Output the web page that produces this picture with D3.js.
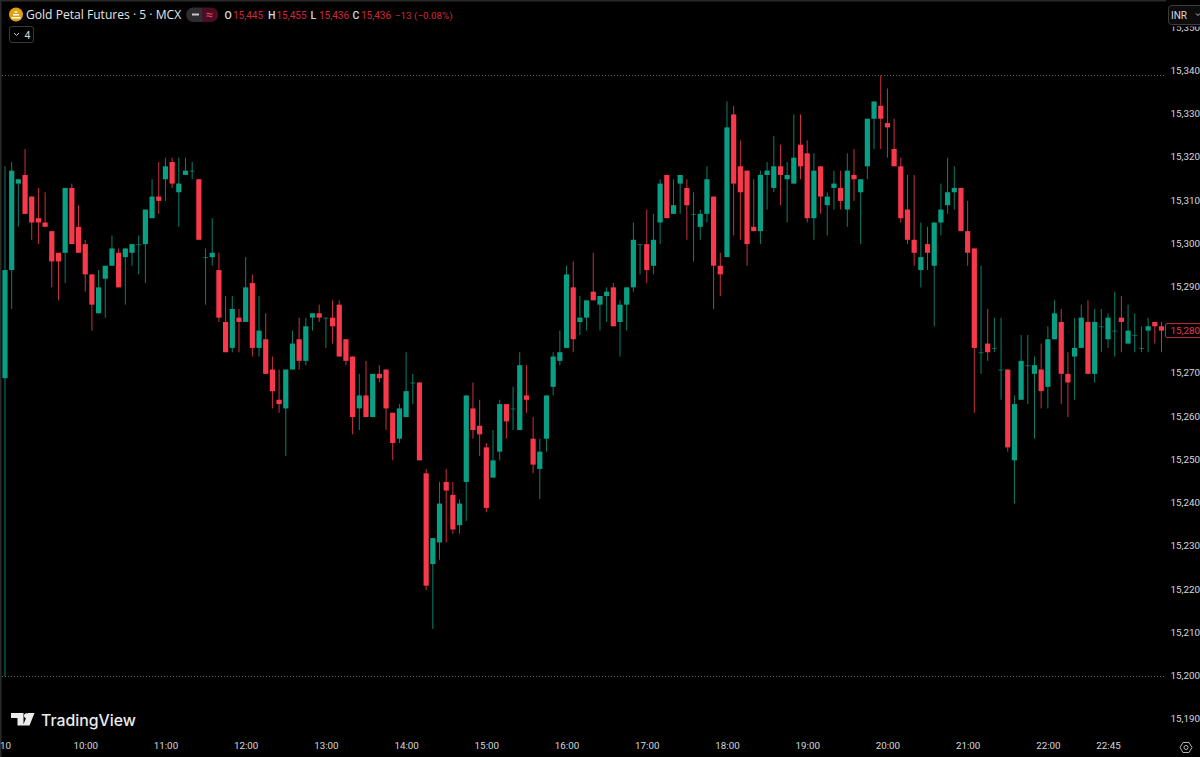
<!DOCTYPE html>
<html>
<head>
<meta charset="utf-8">
<title>Gold Petal Futures</title>
<script src="https://cdn.jsdelivr.net/npm/d3@7"></script>
<style>
  html, body { margin: 0; padding: 0; background: #000; overflow: hidden; }
  svg { display: block; }
  text { font-family: "Open Sans", "Noto Sans", sans-serif; }
  .tick text { font-family: Roboto, sans-serif; font-size: 9.8px; fill: #d6d8de; }
  .tick line, .domain { display: none; }
</style>
</head>
<body>
<svg id="chart" width="1200" height="757"></svg>
<script>
var opens = [15269,15294,15314,15316,15311,15306,15305,15303,15298,15298,15313,15304,15300,15293,15284,15292,15295,15298,15297,15298,
  15300,15300,15306,15311,15315,15319,15312,15316,15317,15315,15297,15297,15294,15282,15276,15283,15282,15291,15276,15278,
  15271,15264,15262,15271,15278,15273,15283,15284,15283,15283,15286,15278,15274,15262,15265,15260,15270,15271,15261,15255,
  15260,15268,15268,15247,15226,15231,15245,15242,15235,15245,15262,15258,15253,15246,15252,15263,15262,15257,15265,15255,
  15248,15255,15267,15273,15276,15290,15282,15283,15289,15286,15288,15290,15282,15286,15290,15300,15300,15295,15305,15316,
  15307,15314,15313,15307,15304,15307,15311,15295,15297,15330,15318,15317,15304,15303,15316,15313,15318,15315,15314,15323,
  15321,15306,15318,15309,15313,15313,15308,15316,15312,15318,15329,15332,15328,15322,15318,15308,15301,15294,15300,15295,
  15305,15309,15312,15313,15303,15299,15275,15277,15276,15271,15271,15250,15264,15272,15270,15271,15267,15278,15282,15270,
  15274,15276,15282,15270,15281,15278,15280,15283,15277,15279,15276,15280,15282,15281];
var highs = [15318,15319,15315,15322,15311,15313,15312,15303,15298,15313,15314,15309,15301,15293,15294,15295,15302,15299,15299,15300,
  15302,15308,15315,15319,15320,15320,15320,15320,15319,15315,15299,15306,15298,15288,15288,15285,15297,15293,15288,15284,
  15274,15271,15271,15280,15283,15283,15284,15286,15283,15287,15287,15278,15274,15270,15273,15270,15272,15271,15261,15263,
  15275,15270,15268,15248,15232,15245,15248,15245,15241,15265,15268,15264,15254,15257,15264,15263,15267,15275,15272,15260,
  15255,15265,15275,15280,15295,15296,15288,15287,15298,15288,15290,15291,15287,15290,15305,15300,15308,15307,15315,15316,
  15315,15316,15315,15312,15308,15318,15311,15298,15333,15332,15324,15317,15315,15317,15319,15325,15323,15319,15330,15330,
  15324,15321,15318,15312,15317,15317,15321,15322,15315,15329,15333,15339,15336,15329,15320,15316,15316,15305,15304,15305,
  15314,15320,15318,15313,15310,15299,15295,15285,15283,15283,15271,15265,15279,15279,15274,15277,15281,15287,15285,15275,
  15283,15286,15287,15285,15285,15284,15289,15288,15286,15284,15281,15283,15282,15282];
var lows = [15200,15285,15304,15307,15301,15300,15304,15290,15287,15291,15300,15298,15289,15280,15284,15283,15295,15290,15286,15295,
  15293,15291,15306,15307,15310,15313,15304,15316,15315,15301,15286,15295,15282,15275,15275,15275,15282,15274,15274,15270,
  15262,15261,15251,15271,15271,15272,15280,15282,15276,15277,15274,15272,15256,15257,15260,15260,15268,15257,15250,15254,
  15260,15263,15250,15220,15211,15227,15231,15233,15233,15236,15255,15251,15238,15246,15250,15255,15257,15257,15261,15247,
  15241,15252,15265,15272,15276,15275,15279,15280,15287,15280,15282,15281,15274,15280,15289,15293,15291,15293,15300,15306,
  15307,15307,15301,15296,15301,15305,15285,15288,15297,15302,15301,15295,15303,15300,15308,15312,15309,15305,15314,15315,
  15305,15301,15307,15302,15308,15308,15304,15310,15300,15315,15322,15322,15320,15318,15305,15300,15295,15290,15294,15281,
  15302,15307,15308,15303,15295,15261,15270,15273,15275,15264,15252,15240,15264,15263,15255,15262,15262,15278,15263,15260,
  15264,15276,15270,15268,15275,15276,15274,15275,15277,15275,15275,15275,15277,15275];
var closes = [15294,15317,15315,15307,15305,15305,15304,15296,15296,15313,15300,15298,15293,15286,15290,15295,15299,15290,15299,15300,
  15300,15308,15311,15310,15318,15314,15314,15317,15317,15301,15297,15298,15283,15275,15285,15282,15290,15276,15280,15270,
  15266,15263,15271,15277,15273,15281,15284,15283,15283,15281,15274,15273,15260,15265,15260,15270,15269,15262,15254,15262,
  15266,15268,15250,15221,15232,15240,15243,15234,15240,15265,15257,15256,15239,15250,15263,15259,15262,15272,15264,15249,
  15252,15265,15274,15275,15293,15278,15283,15287,15287,15288,15289,15281,15286,15290,15301,15300,15294,15301,15314,15306,
  15309,15316,15309,15307,15307,15315,15295,15293,15327,15314,15312,15300,15303,15316,15317,15318,15316,15316,15320,15318,
  15306,15317,15311,15311,15314,15310,15317,15315,15315,15329,15333,15329,15327,15318,15306,15301,15298,15297,15298,15305,
  15308,15312,15313,15303,15298,15276,15275,15275,15276,15271,15253,15263,15273,15272,15272,15266,15278,15284,15270,15268,
  15276,15283,15270,15282,15281,15283,15280,15282,15280,15279,15276,15281,15281,15280];

var priceTicks = [15350,15340,15330,15320,15310,15300,15290,15280,15270,15260,15250,15240,15230,15220,15210,15200,15190];
var timeTicks = [0,12,24,36,48,60,72,84,96,108,120,132,144,156,165];
var timeLabels = ["10","10:00","11:00","12:00","13:00","14:00","15:00","16:00","17:00","18:00","19:00","20:00","21:00","22:00","22:45"];
var levelLines = [15339,15200];

var upColor = "#089f85", downColor = "#f7394b";
var upWick = "#0b7f6c", downWick = "#c93040";

var svg = d3.select("#chart");
var x = d3.scaleLinear().domain([0,173]).range([5,1161.5]);
var y = d3.scaleLinear().domain([15200,15339]).range([676.5,75.5]);
var candles = d3.range(opens.length);

svg.append("rect").attr("width",1200).attr("height",757).attr("fill","#000");

// window edge
svg.append("rect").attr("width",1200).attr("height",1.5).attr("fill","#2a2a2a");
svg.append("rect").attr("width",1.5).attr("height",757).attr("fill","#2a2a2a");

// high / low level lines
svg.selectAll("line.level").data(levelLines).enter().append("line")
  .attr("class","level")
  .attr("x1",2).attr("x2",1166)
  .attr("y1",function(d) { return y(d); })
  .attr("y2",function(d) { return y(d); })
  .attr("stroke","#6a6a6a").attr("stroke-width",1).attr("stroke-dasharray","1 2");

// wicks
svg.selectAll("line.wick").data(candles).enter().append("line")
  .attr("class","wick")
  .attr("x1",function(i) { return x(i); })
  .attr("x2",function(i) { return x(i); })
  .attr("y1",function(i) { return y(highs[i]); })
  .attr("y2",function(i) { return y(lows[i]); })
  .attr("stroke",function(i) { return closes[i] >= opens[i] ? upWick : downWick; })
  .attr("stroke-width",1);

// bodies
svg.selectAll("rect.body").data(candles).enter().append("rect")
  .attr("class","body")
  .attr("x",function(i) { return x(i) - 2.6; })
  .attr("width",5.2)
  .attr("y",function(i) { return y(Math.max(opens[i],closes[i])); })
  .attr("height",function(i) { return Math.max(1, Math.abs(y(opens[i]) - y(closes[i]))); })
  .attr("fill",function(i) { return closes[i] >= opens[i] ? upColor : downColor; })
  .attr("opacity",function(i) { return opens[i] == closes[i] ? 0.6 : 1; });

// axes
var yAxis = d3.axisRight(y).tickValues(priceTicks).tickFormat(d3.format(",")).tickSize(0).tickPadding(0);
svg.append("g").attr("transform","translate(1170.5,-1)").call(yAxis);

var xAxis = d3.axisBottom(x).tickValues(timeTicks)
  .tickFormat(function(d,i) { return timeLabels[i]; }).tickSize(0).tickPadding(0);
svg.append("g").attr("transform","translate(0,742.5)").call(xAxis);

// last price label
var lastPrice = closes[closes.length-1];
svg.append("rect").attr("x",1165.5).attr("y",y(lastPrice)-7).attr("width",36).attr("height",14)
  .attr("rx",1.5).attr("fill","#000").attr("stroke","#c2303f");
svg.append("text").attr("x",1170.5).attr("y",y(lastPrice)+3.4).text(d3.format(",")(lastPrice))
  .style("font-family","Roboto, sans-serif").attr("font-size",9.8).attr("fill","#e63a4b");

// currency button
svg.append("rect").attr("x",1166).attr("y",0).attr("width",34).attr("height",26.5).attr("fill","#000");
svg.append("rect").attr("x",1168.5).attr("y",5.5).attr("width",40).attr("height",19).attr("rx",3)
  .attr("fill","#0c0c0c").attr("stroke","#3c3c3c");
svg.append("text").attr("x",1171).attr("y",18.5).text("INR")
  .style("font-family","Roboto, sans-serif").attr("font-size",10).attr("fill","#d6d8de");
svg.append("path").attr("d","M1196 13.5l2 2 2-2").attr("fill","none").attr("stroke","#c0c0c0");

// header
svg.append("circle").attr("cx",16).attr("cy",14.5).attr("r",7).attr("fill","#e2a00c");
svg.append("path").attr("d","M11.5 17h9v1.5h-9zM13 14h6v1.5h-6zM14.5 11.3h3v1.5h-3z").attr("fill","#fff");
svg.append("text").attr("x",26).attr("y",19).text("Gold Petal Futures · 5 · MCX")
  .attr("font-size",12.1).attr("fill","#e4e5e8");

svg.append("path").attr("d","M193.5 7.5h8.5v14.5h-8.5a7.25 7.25 0 0 1 0-14.5z").attr("fill","#2e2e30");
svg.append("path").attr("d","M202 7.5h9a7.25 7.25 0 0 1 0 14.5h-9z").attr("fill","#4a0f22");
svg.append("rect").attr("x",192).attr("y",13.5).attr("width",7).attr("height",2).attr("fill","#c8c8c8");
svg.append("text").attr("x",205.5).attr("y",19).text("≈")
  .style("font-family","Roboto, sans-serif").attr("font-size",13).attr("fill","#ef3f6c");

var ohlcLabels = ["O","H","L","C"];
var ohlcValues = ["15,445","15,455","15,436","15,436"];
var ohlcX = [224.5,268,310.5,352.5];
ohlcLabels.forEach(function(d,i) {
  svg.append("text").attr("x",ohlcX[i]).attr("y",18.5).text(d)
    .style("font-family","Roboto, sans-serif").attr("font-size",10.5).attr("font-weight",500).attr("fill","#d6d8de");
  svg.append("text").attr("x",ohlcX[i]+8.5).attr("y",18.5).text(ohlcValues[i])
    .style("font-family","Roboto, sans-serif").attr("font-size",10).attr("fill","#d0273c");
});
svg.append("text").attr("x",395).attr("y",18.5).text("−13 (−0.08%)")
  .style("font-family","Roboto, sans-serif").attr("font-size",9.8).attr("fill","#d0273c");

// collapsed indicators button
svg.append("rect").attr("x",9.5).attr("y",26.5).attr("width",24).attr("height",16).attr("rx",2.5)
  .attr("fill","#000").attr("stroke","#3a3a3a");
svg.append("path").attr("d","M14 33l2.5 2.5 2.5-2.5").attr("fill","none").attr("stroke","#c8c8c8");
svg.append("text").attr("x",24.5).attr("y",38.5).text("4")
  .style("font-family","Roboto, sans-serif").attr("font-size",10.5).attr("fill","#d6d8de");

// TradingView mark
svg.append("path").attr("d","M11 713h12.5v12.5h-6v-7.5h-6.5zM28 713h6.5l-5 12.5h-6.5zM26.5 713.2a2.5 2.5 0 1 1-.01 0z")
  .attr("fill","#ececec");
svg.append("text").attr("x",41).attr("y",725.5).text("TradingView")
  .style("font-family","Inter, sans-serif").attr("font-size",15.8).attr("font-weight",500).attr("fill","#ececec");

// settings icon
svg.append("path").attr("d","M1183 742.5h6l3 5-3 5h-6l-3-5z").attr("fill","none").attr("stroke","#b5b5b5");
svg.append("circle").attr("cx",1186).attr("cy",747.5).attr("r",2).attr("fill","none").attr("stroke","#b5b5b5");
</script>
</body>
</html>
